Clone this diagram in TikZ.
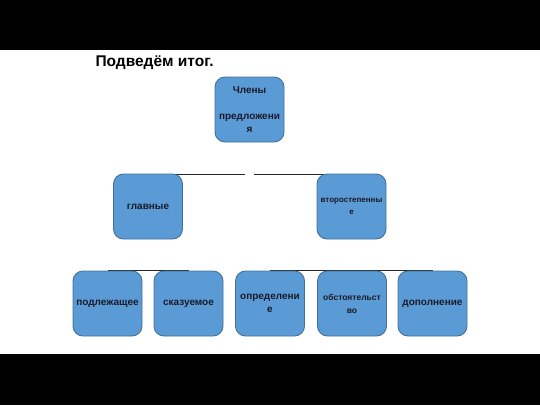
\documentclass[tikz,border=0pt]{standalone}
\usepackage{fontspec}
\setmainfont{Liberation Sans}
\definecolor{boxblue}{HTML}{5B9BD5}
\definecolor{boxedge}{HTML}{41719C}
\definecolor{boxtext}{HTML}{1A1A2A}

\begin{document}
\begin{tikzpicture}[x=1pt,y=-1pt,
    box/.style={draw=boxedge,fill=boxblue,line width=0.9pt,rounded corners=10pt,
        minimum width=69pt,minimum height=65pt,inner sep=0pt,align=center,
        text=boxtext,font=\fontsize{10}{13}\selectfont\bfseries},
    link/.style={draw=black!85,line width=1pt}]
        \useasboundingbox (0,0) rectangle (540,405);
        \fill[black] (0,0) rectangle (540,50);
        \fill[black] (0,354) rectangle (540,405);
        \node[anchor=base west,font=\fontsize{15.5}{18}\selectfont\bfseries] (title) at (92,66) {Подведём итог.};

        % links first, boxes on top
        \coordinate (top1) at (148,174);
        \coordinate (top2) at (351.5,174);
        \coordinate (low1) at (107.5,270);
        \coordinate (low2) at (188.5,270);
        \coordinate (low3) at (270,270);
        \coordinate (low4) at (432.5,270);
        \coordinate (mid) at (249.5,109.5);
        \draw[link] (top1) -- ([xshift=-4.5pt]mid |- top1);
        \draw[link] ([xshift=4.5pt]mid |- top2) -- (top2);
        \draw[link] (low1) -- (low2);
        \draw[link] (low3) -- (low4);

        \node[box] (root) at (mid) {Члены\\[13pt]предложени\\я};
        \node[box] (glav) at (148,206.5) {главные};
        \node[box,font=\fontsize{8}{12}\selectfont\bfseries] (vtor) at (351.5,206.5) {второстепенны\\е};
        \node[box] (podl) at (107.5,303.5) {подлежащее};
        \node[box] (skaz) at (188.5,303.5) {сказуемое};
        \node[box] (opr) at (270,303.5) {определени\\е};
        \node[box,font=\fontsize{8.5}{13}\selectfont\bfseries] (obst) at (352,303.5) {обстоятельст\\во};
        \node[box] (dop) at (432.5,303.5) {дополнение};
    \end{tikzpicture}
\end{document}
